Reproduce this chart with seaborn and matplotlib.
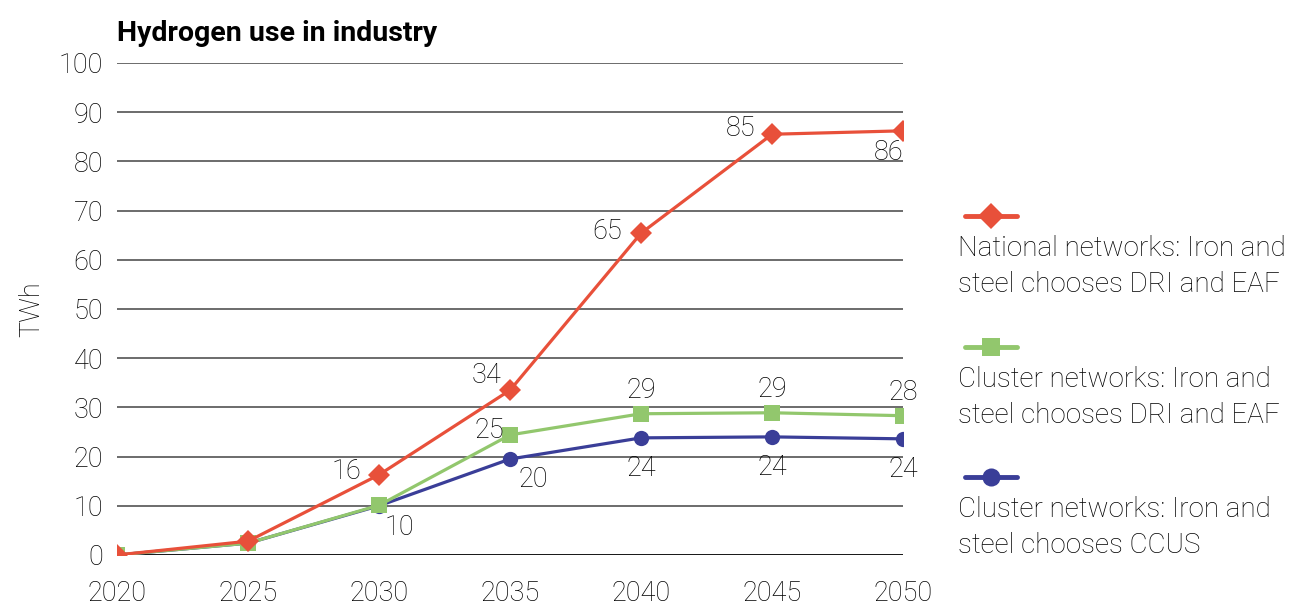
import pandas as pd
import seaborn as sns
import matplotlib.pyplot as plt
from matplotlib.lines import Line2D

## Data
years = [2020, 2025, 2030, 2035, 2040, 2045, 2050]
national_dri = [0, 2.8, 16.3, 33.5, 65.4, 85.5, 86.2]
cluster_dri = [0, 2.4, 10.1, 24.4, 28.7, 28.9, 28.3]
cluster_ccus = [0, 2.4, 10.0, 19.5, 23.8, 24.0, 23.6]
labels_national = ['', '', '16', '34', '65', '85', '86']
labels_cluster_dri = ['', '', '10', '25', '29', '29', '28']
labels_cluster_ccus = ['', '', '', '20', '24', '24', '24']
series_names = ['National networks: Iron and\nsteel chooses DRI and EAF',
                'Cluster networks: Iron and\nsteel chooses DRI and EAF',
                'Cluster networks: Iron and\nsteel chooses CCUS']

colors = ['#e8503a', '#92c76d', '#3a3e98']
markers = ['D', 's', 'o']
msizes = [11.5, 11.5, 11]

df = pd.DataFrame({
    'year': years * 3,
    'TWh': national_dri + cluster_dri + cluster_ccus,
    'series': [series_names[0]] * 7 + [series_names[1]] * 7 + [series_names[2]] * 7,
})

## Plotting
sns.set_style('white')
plt.rcParams['font.family'] = ['Roboto', 'DejaVu Sans']
plt.rcParams['text.color'] = 'black'
fig = plt.figure(figsize=(12.92, 6.06), dpi=100)
ax = fig.add_axes([0.0906, 0.0842, 0.6084, 0.812])

for i in [2, 1, 0]:
    sub = df[df['series'] == series_names[i]]
    sns.lineplot(data=sub, x='year', y='TWh', ax=ax, color=colors[i], marker=markers[i],
                 markersize=msizes[i], markeredgewidth=0, linewidth=2.3, zorder=3 + (2 - i))

fs = 19.5
ax.set_ylim(0, 100)
ax.set_xlim(2020, 2050)
ax.set_yticks(range(0, 101, 10))
ax.set_xticks(years)
for y in range(10, 101, 10):
    ax.axhline(y, color='#444444', linewidth=1.1, zorder=1)
ax.axhline(0, color='black', linewidth=2, zorder=2)
for s in ax.spines.values():
    s.set_visible(False)
ax.tick_params(axis='both', length=0, labelsize=fs, labelcolor='black')
ax.tick_params(axis='y', pad=10)
ax.tick_params(axis='x', pad=18)
for t in ax.get_yticklabels() + ax.get_xticklabels():
    t.set_fontweight('light')
ax.set_xlabel('')
ax.set_ylabel('TWh', fontsize=fs, fontweight='light', color='black', labelpad=10)
ax.set_title('Hydrogen use in industry', loc='left', fontsize=20.5, fontweight='bold',
             color='black', pad=16)

## value labels: (x offset, y offset, ha, va) in points
lab_kw = dict(fontsize=fs, fontweight='light', color='black', zorder=10, textcoords='offset points')
pos_national = {2030: (-13, 2, 'right', 'center'), 2035: (-6, 1, 'right', 'bottom'),
                2040: (-14, 1, 'right', 'center'), 2045: (-12, 4, 'right', 'center'),
                2050: (0, -6, 'right', 'top')}
pos_cluster_dri = {2030: (4, -6, 'left', 'top'), 2035: (-4, 3, 'right', 'center')}
pos_cluster_ccus = {2035: (6, -5, 'left', 'top')}
for x, v, t in zip(years, national_dri, labels_national):
    if t:
        dx, dy, ha, va = pos_national[x]
        ax.annotate(t, (x, v), xytext=(dx, dy), ha=ha, va=va, **lab_kw)
for x, v, t in zip(years, cluster_dri, labels_cluster_dri):
    if t:
        dx, dy, ha, va = pos_cluster_dri.get(x, (0, 7, 'center', 'bottom'))
        ax.annotate(t, (x, v), xytext=(dx, dy), ha=ha, va=va, **lab_kw)
for x, v, t in zip(years, cluster_ccus, labels_cluster_ccus):
    if t:
        dx, dy, ha, va = pos_cluster_ccus.get(x, (0, -12, 'center', 'top'))
        ax.annotate(t, (x, v), xytext=(dx, dy), ha=ha, va=va, **lab_kw)

## legend
leg_y = [216, 347, 477]
for i in range(3):
    yf = 1 - leg_y[i] / 606
    fig.add_artist(Line2D([965 / 1292, 1017 / 1292], [yf, yf], color=colors[i], linewidth=3.5))
    fig.add_artist(Line2D([991 / 1292], [yf], color=colors[i], marker=markers[i],
                          markersize=msizes[i] + 2, markeredgewidth=0, linestyle='none'))
    fig.text(958 / 1292, 1 - (leg_y[i] + 19) / 606, series_names[i], fontsize=20,
             fontweight='light', color='black', va='top', ha='left', linespacing=1.45)

plt.savefig('out.png', dpi=100)
plt.close()
